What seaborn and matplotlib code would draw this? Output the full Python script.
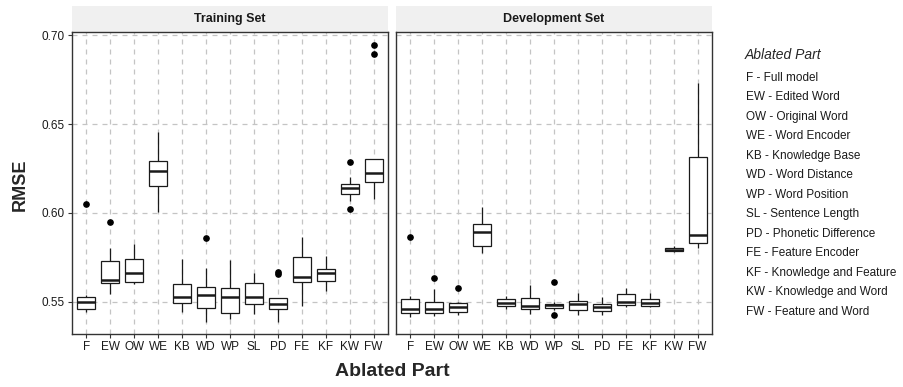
import numpy as np
import pandas as pd
import seaborn as sns
import matplotlib.pyplot as plt
from matplotlib.patches import Rectangle

parts = ['F', 'EW', 'OW', 'WE', 'KB', 'WD', 'WP', 'SL', 'PD', 'FE', 'KF', 'KW', 'FW']
part_names = ['Full model', 'Edited Word', 'Original Word', 'Word Encoder',
              'Knowledge Base', 'Word Distance', 'Word Position', 'Sentence Length',
              'Phonetic Difference', 'Feature Encoder', 'Knowledge and Feature',
              'Knowledge and Word', 'Feature and Word']

# RMSE of the runs, one list per ablated part
train_rmse = [
    [0.5444, 0.5452, 0.5459, 0.5480, 0.5500, 0.5512, 0.5526, 0.5537, 0.6049],
    [0.5545, 0.5580, 0.5609, 0.5615, 0.5622, 0.5680, 0.5728, 0.5805, 0.5951],
    [0.5599, 0.5605, 0.5612, 0.5640, 0.5665, 0.5700, 0.5743, 0.5780, 0.5824],
    [0.6004, 0.6080, 0.6154, 0.6200, 0.6236, 0.6265, 0.6294, 0.6380, 0.6457],
    [0.5446, 0.5470, 0.5496, 0.5510, 0.5528, 0.5560, 0.5599, 0.5670, 0.5740],
    [0.5390, 0.5430, 0.5464, 0.5500, 0.5537, 0.5560, 0.5586, 0.5689, 0.5858],
    [0.5403, 0.5420, 0.5440, 0.5490, 0.5526, 0.5550, 0.5581, 0.5660, 0.5738],
    [0.5433, 0.5460, 0.5491, 0.5510, 0.5530, 0.5570, 0.5605, 0.5635, 0.5661],
    [0.5390, 0.5430, 0.5463, 0.5475, 0.5489, 0.5505, 0.5521, 0.5657, 0.5667],
    [0.5478, 0.5550, 0.5614, 0.5625, 0.5640, 0.5700, 0.5751, 0.5810, 0.5867],
    [0.5562, 0.5590, 0.5620, 0.5645, 0.5665, 0.5675, 0.5685, 0.5720, 0.5758],
    [0.6020, 0.6067, 0.6109, 0.6125, 0.6140, 0.6152, 0.6165, 0.6204, 0.6285],
    [0.6079, 0.6130, 0.6176, 0.6200, 0.6223, 0.6265, 0.6305, 0.6893, 0.6946],
]
dev_rmse = [
    [0.5418, 0.5430, 0.5440, 0.5450, 0.5463, 0.5490, 0.5515, 0.5532, 0.5863],
    [0.5421, 0.5428, 0.5436, 0.5450, 0.5463, 0.5480, 0.5498, 0.5571, 0.5633],
    [0.5427, 0.5436, 0.5444, 0.5457, 0.5470, 0.5482, 0.5493, 0.5502, 0.5576],
    [0.5777, 0.5796, 0.5815, 0.5855, 0.5893, 0.5915, 0.5936, 0.5985, 0.6036],
    [0.5459, 0.5468, 0.5476, 0.5486, 0.5496, 0.5505, 0.5515, 0.5525, 0.5536],
    [0.5433, 0.5446, 0.5459, 0.5469, 0.5479, 0.5500, 0.5521, 0.5560, 0.5596],
    [0.5425, 0.5455, 0.5466, 0.5475, 0.5483, 0.5487, 0.5491, 0.5502, 0.5612],
    [0.5429, 0.5442, 0.5455, 0.5471, 0.5487, 0.5497, 0.5507, 0.5530, 0.5552],
    [0.5427, 0.5439, 0.5451, 0.5461, 0.5472, 0.5480, 0.5487, 0.5507, 0.5526],
    [0.5470, 0.5478, 0.5485, 0.5491, 0.5498, 0.5520, 0.5545, 0.5561, 0.5577],
    [0.5470, 0.5475, 0.5479, 0.5486, 0.5494, 0.5505, 0.5515, 0.5532, 0.5549],
    [0.5781, 0.5784, 0.5787, 0.5790, 0.5794, 0.5797, 0.5801, 0.5808, 0.5815],
    [0.5801, 0.5815, 0.5830, 0.5853, 0.5876, 0.6100, 0.6316, 0.6520, 0.6728],
]
set_names = ['Training Set', 'Development Set']


def long_df(rmse):
    rows = []
    for p, vals in zip(parts, rmse):
        for v in vals:
            rows.append((p, v))
    return pd.DataFrame(rows, columns=['part', 'rmse'])


sns.set_style('white')
plt.rcParams['font.family'] = ['Liberation Sans', 'DejaVu Sans']

fig = plt.figure(figsize=(9.04, 3.87), dpi=100)
W, H = 904, 387
panels = [(72, 388), (396, 712)]
top, bottom = 32, 334

for i, (data, name) in enumerate(zip([train_rmse, dev_rmse], set_names)):
    x0, x1 = panels[i]
    ax = fig.add_axes([x0 / W, (H - bottom) / H, (x1 - x0) / W, (bottom - top) / H])
    df = long_df(data)
    sns.boxplot(data=df, x='part', y='rmse', order=parts, ax=ax, width=0.75,
                color='white', linecolor='#1a1a1a', linewidth=0.9, showcaps=False,
                medianprops={'linewidth': 1.8, 'color': '#1a1a1a'},
                flierprops={'marker': 'o', 'markersize': 3.8, 'markerfacecolor': 'black',
                            'markeredgecolor': 'black'})
    # dashed grid on both axes (seaborn switches the category grid off)
    ax.set_axisbelow(True)
    ax.xaxis.grid(True, color='#c4c4c4', linestyle=(0, (4, 4)), linewidth=0.9)
    ax.yaxis.grid(True, color='#c4c4c4', linestyle=(0, (4, 4)), linewidth=0.9)
    ax.set_xlim(-0.6, 12.6)
    ax.set_ylim(0.532, 0.7017)
    ax.set_yticks([0.55, 0.60, 0.65, 0.70])
    ax.set_xlabel('')
    ax.set_ylabel('')
    for s in ax.spines.values():
        s.set_color('#333333')
        s.set_linewidth(1.0)
    ax.tick_params(axis='both', length=3, width=0.8, color='#333333',
                   labelsize=8.5, labelcolor='#1a1a1a', pad=2)
    ax.tick_params(axis='x', bottom=True)
    ax.tick_params(axis='y', left=True)
    if i == 0:
        ax.set_yticklabels(['0.55', '0.60', '0.65', '0.70'])
    else:
        ax.set_yticklabels([])
        ax.tick_params(axis='y', left=False)
    # facet strip
    ax.add_patch(Rectangle((0, 1.0), 1, 26 / (bottom - top), transform=ax.transAxes,
                           facecolor='#f0f0f0', edgecolor='none', clip_on=False))
    ax.text(0.5, 1.0 + 13 / (bottom - top), name, transform=ax.transAxes,
            ha='center', va='center', fontsize=9, fontweight='bold', color='#1a1a1a')

fig.text(20 / W, 1 - 185 / H, 'RMSE', rotation=90, ha='center', va='center',
         fontsize=13, fontweight='bold')
fig.text(392 / W, 1 - 371 / H, 'Ablated Part', ha='center', va='center',
         fontsize=14, fontweight='bold')

fig.text(745 / W, 1 - 55 / H, 'Ablated Part', ha='left', va='center',
         fontsize=10, style='italic')
for k, (p, n) in enumerate(zip(parts, part_names)):
    fig.text(746 / W, 1 - (78 + k * 19.5) / H, f'{p} - {n}', ha='left', va='center',
             fontsize=8.5, color='#1a1a1a')

fig.savefig('out.png', dpi=100)
